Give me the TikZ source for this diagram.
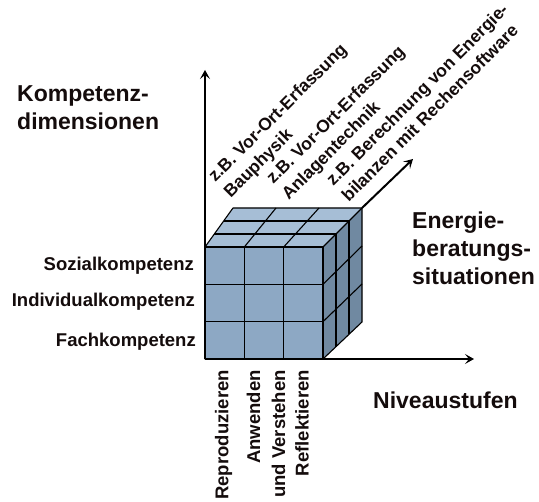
\documentclass[tikz,border=0pt]{standalone}
\usepackage{fontspec}
\setmainfont{Liberation Sans}
\usetikzlibrary{calc,arrows.meta}
\definecolor{cfront}{RGB}{141,168,196}
\definecolor{ctop}{RGB}{166,190,214}
\definecolor{cright}{RGB}{112,137,161}
\definecolor{ctext}{RGB}{20,12,12}
\begin{document}
\begin{tikzpicture}[x=1pt,y=-1pt,
  every node/.style={inner sep=0pt, text=ctext},
  big/.style={font=\fontsize{23}{28}\selectfont\bfseries},
  small/.style={font=\fontsize{18.5}{25}\selectfont\bfseries},
  diag/.style={font=\fontsize{17.5}{22}\selectfont\bfseries, rotate=45, anchor=north west, align=left},
  cubeline/.style={draw=black, line width=1.1pt, line join=round},
  axis/.style={draw=black, line width=2pt, -{Stealth[length=9pt,width=10pt,inset=4pt]}}]
\fill[white] (0,0) rectangle (539,502);
\useasboundingbox (0,0) rectangle (539,502);

% cube corners
\coordinate (FTL) at (205,247);
\coordinate (FTR) at (323,247);
\coordinate (FBR) at (323,359);
\coordinate (FBL) at (205,359);
\coordinate (BTL) at (233,208);
\coordinate (BTR) at (362,208);
\coordinate (BBR) at (362,322);

\fill[cfront] (FTL) rectangle (FBR);
\fill[ctop] (FTL) -- (BTL) -- (BTR) -- (FTR) -- cycle;
\fill[cright] (FTR) -- (BTR) -- (BBR) -- (FBR) -- cycle;

\foreach \s in {0.3333,0.6667} {
  \draw[cubeline] ($(FTL)!\s!(FTR)$) -- ($(FBL)!\s!(FBR)$);
  \draw[cubeline] ($(FTL)!\s!(FBL)$) -- ($(FTR)!\s!(FBR)$);
  \draw[cubeline] ($(FTL)!\s!(BTL)$) -- ($(FTR)!\s!(BTR)$);
  \draw[cubeline] ($(FTL)!\s!(FTR)$) -- ($(BTL)!\s!(BTR)$);
  \draw[cubeline] ($(FTR)!\s!(BTR)$) -- ($(FBR)!\s!(BBR)$);
  \draw[cubeline] ($(FTR)!\s!(FBR)$) -- ($(BTR)!\s!(BBR)$);
}
\draw[cubeline] (FBL) -- (FTL) -- (BTL) -- (BTR) -- (BBR) -- (FBR) -- cycle;
\draw[cubeline] (FTL) -- (FTR) -- (FBR);
\draw[cubeline] (FTR) -- (BTR);

% axes
\coordinate (ytip) at (205,70);
\coordinate (xtip) at (474,359);
\coordinate (dtip) at (413,159);
\draw[axis] (FBL) -- (ytip);
\draw[axis] (FBL) -- (xtip);
\draw[axis] (BTR) -- (dtip);

% labels
\node[big, anchor=north west, align=left] (kd) at (17,85) {Kompetenz-\\dimensionen};
\node[big, anchor=north west, align=left] (eb) at (412,212) {Energie-\\beratungs-\\situationen};
\node[big, anchor=base west] (nv) at (373,409) {Niveaustufen};

\node[small, anchor=base east] (sk) at (194,271) {Sozialkompetenz};
\node[small, anchor=base east] (ik) at (195,307) {Individualkompetenz};
\node[small, anchor=base east] (fk) at (196,347) {Fachkompetenz};

\node[small, rotate=90, anchor=east] (rp) at (223.5,370) {Reproduzieren};
\node[small, rotate=90, anchor=east, align=right] (av) at (266,370) {Anwenden\\und Verstehen};
\node[small, rotate=90, anchor=east] (rf) at (302,370) {Reflektieren};

\node[diag] (d1) at (206,174) {z.B. Vor-Ort-Erfassung\\Bauphysik};
\node[diag] (d2) at (264,176) {z.B. Vor-Ort-Erfassung\\Anlagentechnik};
\node[diag] (d3) at (324,178) {z.B. Berechnung von Energie-\\bilanzen mit Rechensoftware};
\end{tikzpicture}
\end{document}
